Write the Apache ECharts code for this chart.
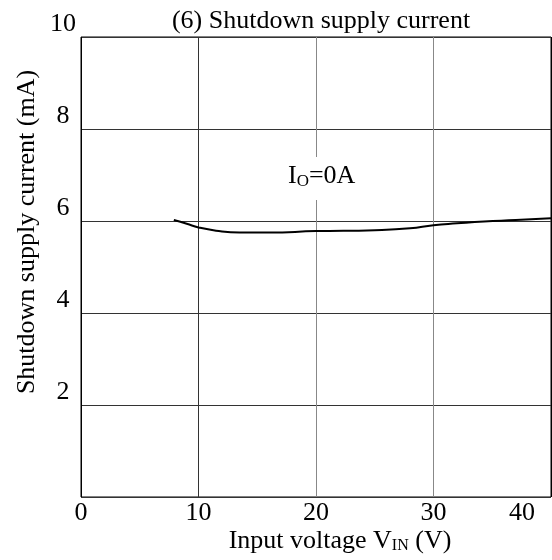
<!DOCTYPE html>
<html><head><meta charset="utf-8">
<script src="https://cdn.jsdelivr.net/npm/echarts@6/dist/echarts.min.js"></script>
<style>html,body{margin:0;padding:0;background:#fff}#c{width:552px;height:560px}</style>
</head><body><div id="c"></div>
<script>
const voltage = [7.9, 9, 10, 11.5, 13.5, 16, 20, 25, 28, 30, 32, 34.3, 37, 40];
const current = [6.02, 5.94, 5.86, 5.79, 5.75, 5.75, 5.78, 5.80, 5.84, 5.91, 5.95, 5.99, 6.02, 6.06];
const xTicks = [0, 10, 20, 30, 40];
const yTicks = [2, 4, 6, 8, 10];
const titleText = '(6) Shutdown supply current';
const yTitle = 'Shutdown supply current (mA)';
const xTitle = ['Input voltage V', 'IN', ' (V)'];
const note = ['I', 'O', '=0A'];

const font = 'Liberation Serif';
const chart = echarts.init(document.getElementById('c'));
chart.setOption({
  backgroundColor: '#fff',
  animation: false,
  title: { text: titleText, left: 316, top: 3, textAlign: 'center',
    textStyle: { fontFamily: font, fontSize: 26, fontWeight: 'normal', color: '#000' } },
  grid: { left: 81, right: 1, top: 37, bottom: 63, show: true, borderColor: '#000', borderWidth: 1,
    outerBoundsMode: 'none', containLabel: false },
  xAxis: {
    type: 'value', min: 0, max: 40, interval: 10,
    axisLine: { show: false }, axisTick: { show: false },
    axisLabel: { fontFamily: font, fontSize: 26, color: '#000', margin: 3, alignMaxLabel: 'right',
      formatter: v => (xTicks.indexOf(v) < 0 ? '' : (v === 40 ? '{m|40}' : String(v))),
      rich: { m: { fontFamily: font, fontSize: 26, color: '#000', padding: [0, 16, 0, 0] } } },
    splitLine: { show: true, lineStyle: { color: ['#000', '#333', '#888', '#888', '#000'], width: 1 } }
  },
  yAxis: {
    type: 'value', min: 0, max: 10, interval: 2,
    axisLine: { show: false }, axisTick: { show: false },
    axisLabel: { fontFamily: font, fontSize: 26, color: '#000', margin: 18,
      align: 'center', verticalAlign: 'bottom',
      formatter: v => (yTicks.indexOf(v) >= 0 ? String(v) : '') },
    splitLine: { show: true, lineStyle: { color: '#333', width: 1 } }
  },
  graphic: [{
    type: 'text', left: 282, top: 157, z: 10,
    style: { text: '{a|' + note[0] + '}{s|' + note[1] + '}{a|' + note[2] + '}',
      backgroundColor: '#fff', padding: [6, 6, 10, 6], rich: {
      a: { fontFamily: font, fontSize: 26, fill: '#000' },
      s: { fontFamily: font, fontSize: 17, fill: '#000', verticalAlign: 'bottom', padding: [10,0,0,0] } } }
  }, {
    type: 'text', x: 340, y: 541,
    style: { text: '{a|' + xTitle[0] + '}{s|' + xTitle[1] + '}{a|' + xTitle[2] + '}',
      align: 'center', verticalAlign: 'middle', rich: {
      a: { fontFamily: font, fontSize: 26, fill: '#000' },
      s: { fontFamily: font, fontSize: 16, fill: '#000', verticalAlign: 'bottom', padding: [10,0,0,0] } } }
  }, {
    type: 'text', x: 27, y: 232, rotation: Math.PI / 2,
    style: { text: yTitle, align: 'center', verticalAlign: 'middle',
      fontFamily: font, fontSize: 26, fill: '#000' }
  }],
  series: [{
    type: 'line', smooth: true, symbol: 'none',
    lineStyle: { color: '#000', width: 2 },
    data: voltage.map((v, i) => [v, current[i]])
  }]
});
</script></body></html>
